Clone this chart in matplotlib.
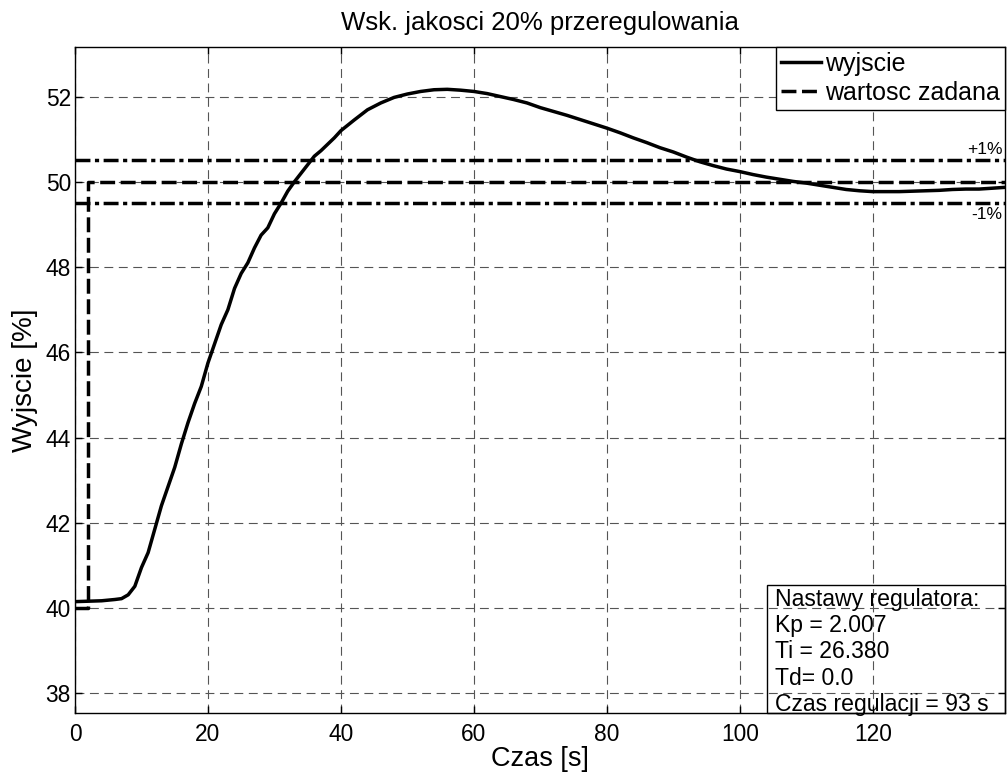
import matplotlib
matplotlib.use("Agg")
import matplotlib.pyplot as plt
from matplotlib.patches import Rectangle

# ---- data ----
t_out = [0, 2, 4, 6, 7, 8, 9, 10, 11, 12, 13, 14, 15, 16, 17, 18, 19, 20,
         21, 22, 23, 24, 25, 26, 27, 28, 29, 30, 31, 32, 33, 34, 35, 36, 37,
         38, 39, 40, 42, 44, 46, 48, 50, 52, 54, 56, 58, 60, 62, 64, 66, 68,
         70, 72, 74, 76, 78, 80, 82, 84, 86, 88, 90, 92, 94, 96, 98, 100, 102,
         104, 106, 108, 110, 112, 114, 116, 118, 120, 122, 124, 126, 128, 130,
         132, 134, 136, 138, 139.9]
y_out = [40.15, 40.16, 40.17, 40.20, 40.22, 40.31, 40.51, 40.95, 41.30, 41.85,
         42.40, 42.85, 43.30, 43.85, 44.35, 44.80, 45.20, 45.75, 46.20, 46.65,
         47.00, 47.50, 47.85, 48.10, 48.45, 48.75, 48.92, 49.25, 49.50, 49.78,
         50.00, 50.20, 50.40, 50.60, 50.73, 50.88, 51.03, 51.20, 51.45, 51.69,
         51.85, 51.98, 52.06, 52.12, 52.16, 52.17, 52.15, 52.12, 52.07, 52.00,
         51.93, 51.85, 51.74, 51.65, 51.56, 51.46, 51.36, 51.26, 51.15, 51.03,
         50.92, 50.80, 50.70, 50.58, 50.47, 50.38, 50.30, 50.24, 50.17, 50.11,
         50.06, 50.01, 49.97, 49.92, 49.87, 49.82, 49.79, 49.77, 49.77, 49.77,
         49.78, 49.79, 49.80, 49.82, 49.83, 49.83, 49.85, 49.87]

t_set = [0, 2, 2, 139.9]
y_set = [40, 40, 50, 50]

band_upper = 50.5
band_lower = 49.5
band_labels = ["+1%", "-1%"]

title = "Wsk. jakosci 20% przeregulowania"
xlabel = "Czas [s]"
ylabel = "Wyjscie [%]"
legend_labels = ["wyjscie", "wartosc zadana"]
info_lines = ["Nastawy regulatora:", "Kp = 2.007", "Ti = 26.380", "Td= 0.0",
              "Czas regulacji = 93 s"]
xticks = [0, 20, 40, 60, 80, 100, 120]
yticks = [38, 40, 42, 44, 46, 48, 50, 52]

# ---- plotting ----
plt.rcParams["font.family"] = ["Liberation Sans", "DejaVu Sans"]

fig = plt.figure(figsize=(10.08, 7.72), dpi=100)
ax = fig.add_axes([75 / 1008, 1 - 713.3 / 772, 930 / 1008, (713.3 - 46.7) / 772])

lw = 2.5
ax.plot(t_out, y_out, color="black", lw=lw, label=legend_labels[0],
        solid_joinstyle="round", zorder=4)
ax.plot(t_set, y_set, color="black", lw=lw, linestyle=(0, (4.3, 1.6)),
        label=legend_labels[1], zorder=4)
ax.axhline(band_upper, color="black", lw=lw, linestyle=(0, (4.3, 1.3, 1.2, 1.3)), zorder=3)
ax.axhline(band_lower, color="black", lw=lw, linestyle=(0, (4.3, 1.3, 1.2, 1.3)), zorder=3)

ax.set_xlim(0, 139.9)
ax.set_ylim(37.53, 53.17)
ax.set_xticks(xticks)
ax.set_yticks(yticks)

ax.text(139.5, band_upper + 0.08, band_labels[0], ha="right", va="bottom", fontsize=12.5)
ax.text(139.5, band_lower - 0.1, band_labels[1], ha="right", va="top", fontsize=12.5)

ax.grid(True, color="#555555", lw=0.8, linestyle=(0, (8, 5)))
ax.set_axisbelow(True)

ax.tick_params(direction="in", length=5, width=1, top=True, right=True,
               labelsize=16.4)
ax.tick_params(axis="x", pad=7)
ax.tick_params(axis="y", pad=3)
for s in ax.spines.values():
    s.set_linewidth(1.0)

ax.set_title(title, fontsize=18.5, pad=12)
ax.set_xlabel(xlabel, fontsize=19.5, labelpad=0)
ax.set_ylabel(ylabel, fontsize=20, labelpad=5.6)

leg = ax.legend(loc="upper right", fontsize=18, borderaxespad=0,
                fancybox=False, framealpha=1, edgecolor="black",
                handlelength=1.6, handletextpad=0.15, borderpad=0.2,
                labelspacing=0.2)
leg.get_frame().set_linewidth(1.0)
leg.set_zorder(10)

# info text box (lower right, drawn in axes coordinates)
box_x0 = (767 - 75) / 930
box_h = (713.3 - 585) / 666.6
ax.add_patch(Rectangle((box_x0, 0), 1 - box_x0, box_h, transform=ax.transAxes,
                       facecolor="none", edgecolor="black", lw=1.0, zorder=6,
                       clip_on=False))
ax.text((775 - 75) / 930, -0.004, "\n".join(info_lines), transform=ax.transAxes,
        ha="left", va="bottom", fontsize=16.6, linespacing=1.18, zorder=6)

fig.savefig("out.png", dpi=100)
